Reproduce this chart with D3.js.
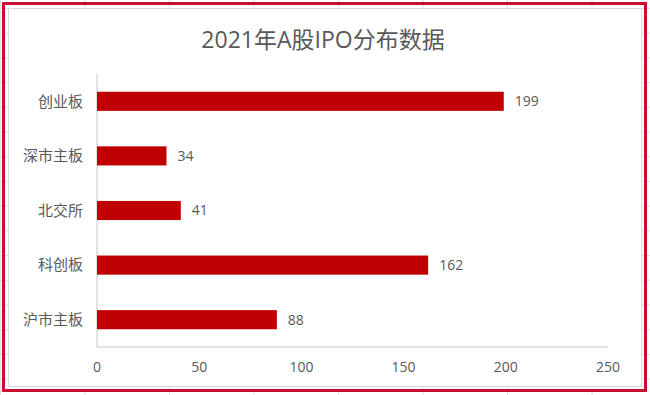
<!DOCTYPE html>
<html>
<head>
<meta charset="utf-8">
<script src="https://cdnjs.cloudflare.com/ajax/libs/d3/7.8.5/d3.min.js"></script>
<style>
  body { margin: 0; background: #fff; }
  svg text { font-family: "Open Sans", "Noto Sans CJK SC", sans-serif; fill: #595959; }
</style>
</head>
<body>
<svg id="chart" width="650" height="395"></svg>
<script>
var chartTitle = "2021年A股IPO分布数据";
var categories = ["创业板", "深市主板", "北交所", "科创板", "沪市主板"];
var ipoCounts = [199, 34, 41, 162, 88];
var xTicks = [0, 50, 100, 150, 200, 250];

var svg = d3.select("#chart");

//Spreadsheet cells behind the chart
var grid = svg.append("g");
d3.range(0, 8).forEach(function(i) {
    grid.append("line")
        .attr("x1", 0.5 + i * 84.5).attr("x2", 0.5 + i * 84.5)
        .attr("y1", 0).attr("y2", 395)
        .attr("stroke", "#e0e0e0");
});
d3.range(0, 17).forEach(function(i) {
    grid.append("line")
        .attr("x1", 0).attr("x2", 650)
        .attr("y1", 8.5 + i * 24.7).attr("y2", 8.5 + i * 24.7)
        .attr("stroke", "#e0e0e0");
});

//Chart area
svg.append("rect")
    .attr("x", 8.5).attr("y", 8.5)
    .attr("width", 633).attr("height", 378)
    .attr("fill", "#fff")
    .attr("stroke", "#d9d9d9");

//Red frame
svg.append("rect")
    .attr("x", 3.5).attr("y", 3.5)
    .attr("width", 642).attr("height", 387)
    .attr("fill", "none")
    .attr("stroke", "#c8102e")
    .attr("stroke-width", 3);

var margin = {left: 97, right: 608, top: 74, bottom: 347};

var x = d3.scaleLinear()
    .domain([0, 250])
    .range([margin.left, margin.right]);

var y = d3.scaleBand()
    .domain(categories)
    .range([margin.top, margin.bottom])
    .paddingInner(0.65)
    .paddingOuter(0.325);

svg.append("text")
    .attr("x", 323)
    .attr("y", 48)
    .attr("text-anchor", "middle")
    .style("font-size", "23px")
    .text(chartTitle);

//Axis lines
svg.append("line")
    .attr("x1", margin.left).attr("x2", margin.left)
    .attr("y1", margin.top).attr("y2", margin.bottom)
    .attr("stroke", "#d9d9d9").attr("stroke-width", 1.5);
svg.append("line")
    .attr("x1", margin.left).attr("x2", margin.right)
    .attr("y1", margin.bottom).attr("y2", margin.bottom)
    .attr("stroke", "#d9d9d9").attr("stroke-width", 1.5);

//Tick labels
svg.selectAll("text.xtick")
    .data(xTicks)
    .enter().append("text")
    .attr("class", "xtick")
    .attr("x", function(d) { return x(d); })
    .attr("y", 372)
    .attr("text-anchor", "middle")
    .style("font-size", "14px")
    .text(function(d) { return d; });

svg.selectAll("text.ycat")
    .data(categories)
    .enter().append("text")
    .attr("class", "ycat")
    .attr("x", 83)
    .attr("y", function(d) { return y(d) + y.bandwidth() / 2; })
    .attr("dy", "0.35em")
    .attr("text-anchor", "end")
    .style("font-size", "15px")
    .text(function(d) { return d; });

//Bars
svg.selectAll("rect.bar")
    .data(ipoCounts)
    .enter().append("rect")
    .attr("class", "bar")
    .attr("x", x(0))
    .attr("y", function(d, i) { return y(categories[i]); })
    .attr("width", function(d) { return x(d) - x(0); })
    .attr("height", y.bandwidth())
    .attr("fill", "#c00000");

svg.selectAll("text.val")
    .data(ipoCounts)
    .enter().append("text")
    .attr("class", "val")
    .attr("x", function(d) { return x(d) + 11; })
    .attr("y", function(d, i) { return y(categories[i]) + y.bandwidth() / 2; })
    .attr("dy", "0.35em")
    .style("font-size", "14px")
    .text(function(d) { return d; });
</script>
</body>
</html>
